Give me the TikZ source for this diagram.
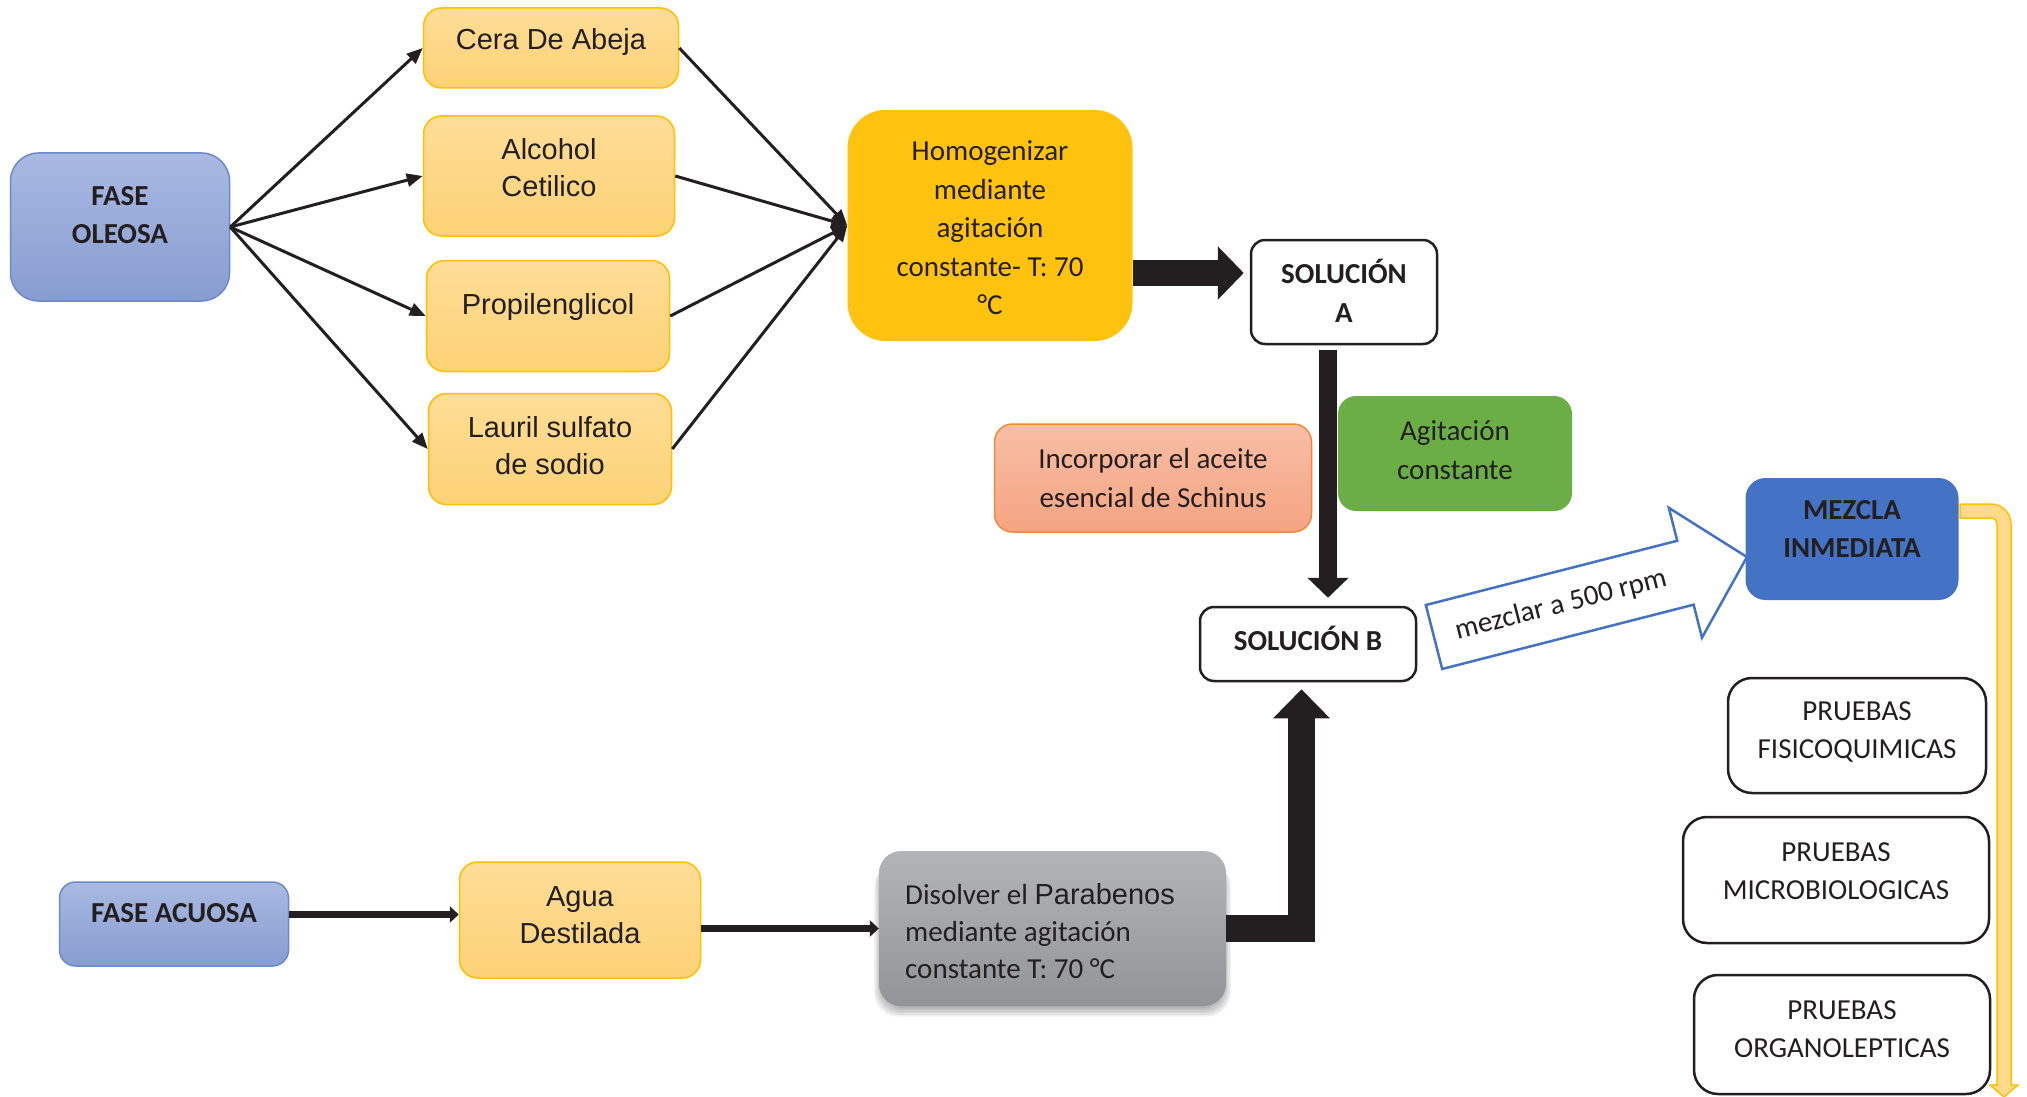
\documentclass[tikz,border=0pt]{standalone}
\usepackage{fontspec}
\setmainfont{Carlito}
\newfontfamily\arialf{Liberation Sans}
\usetikzlibrary{arrows.meta,calc}
\definecolor{txtc}{HTML}{231F20}
\definecolor{faseTop}{HTML}{A9B9E2}
\definecolor{faseBot}{HTML}{879DD0}
\definecolor{faseDraw}{HTML}{6A8BCB}
\definecolor{yTop}{HTML}{FEDD97}
\definecolor{yBot}{HTML}{FDD276}
\definecolor{yDraw}{HTML}{FFC000}
\definecolor{homC}{HTML}{FFC20E}
\definecolor{salTop}{HTML}{F8BEA5}
\definecolor{salBot}{HTML}{F5A482}
\definecolor{salDraw}{HTML}{F0883E}
\definecolor{grnC}{HTML}{6AAE45}
\definecolor{bluC}{HTML}{4472C4}
\definecolor{gryTop}{HTML}{B2B4B6}
\definecolor{gryBot}{HTML}{929497}
\definecolor{elbFill}{HTML}{FFDA8C}
\begin{document}
\begin{tikzpicture}[x=1pt,y=-1pt,
  every node/.style={text=txtc, inner sep=0pt},
  cal/.style={font=\fontsize{29pt}{38.5pt}\selectfont, align=center},
  calb/.style={font=\fontsize{29pt}{38.5pt}\selectfont\bfseries, align=center},
  ar/.style={font=\arialf\fontsize{29pt}{37pt}\selectfont, align=center},
  fase/.style={rounded corners=28pt, top color=faseTop, bottom color=faseBot, draw=faseDraw, line width=1.5pt},
  ybox/.style={rounded corners=18pt, top color=yTop, bottom color=yBot, draw=yDraw, line width=1.5pt},
  homb/.style={rounded corners=38pt, fill=homC},
  solb/.style={rounded corners=14pt, fill=white, draw=txtc, line width=2.5pt},
  salb/.style={rounded corners=18pt, top color=salTop, bottom color=salBot, draw=salDraw, line width=1.5pt},
  grnb/.style={rounded corners=18pt, fill=grnC},
  mezb/.style={rounded corners=20pt, fill=bluC},
  prb/.style={rounded corners=24pt, fill=white, draw=txtc, line width=2.5pt},
  disb/.style={rounded corners=22pt, top color=gryTop, bottom color=gryBot},
  shd/.style={fill=black, opacity=0.055, rounded corners=24pt},
  thinarr/.style={draw=txtc, line width=3pt, -{Triangle[length=16pt,width=13pt]}},
  midarr/.style={draw=txtc, line width=6.5pt, -{Triangle[length=9pt,width=16pt]}},
  blk/.style={draw=txtc, line join=miter}
]
\useasboundingbox (0,0) rectangle (2027,1097);

% ---------- boxes ----------
\node[fase, minimum width=219pt, minimum height=148pt] (oleosa) at (120,227) {};
\node[calb] (oleosa-t) at (120,215) {FASE\\OLEOSA};

\node[ybox, minimum width=255pt, minimum height=80pt] (cera) at (551,48) {};
\node[ar] (cera-t) at (551,42) {Cera De Abeja};
\node[ybox, minimum width=251pt, minimum height=120pt] (alc) at (549,176) {};
\node[ar] (alc-t) at (549,168) {Alcohol\\Cetilico};
\node[ybox, minimum width=243pt, minimum height=111pt] (prop) at (548,316) {};
\node[ar] (prop-t) at (548,307) {Propilenglicol};
\node[ybox, minimum width=243pt, minimum height=111pt] (lau) at (550,449) {};
\node[ar] (lau-t) at (550,446) {Lauril sulfato\\de sodio};

\node[homb, minimum width=285pt, minimum height=231pt] (homog) at (990,225.5) {};
\node[cal] (homog-t) at (990,228) {Homogenizar\\mediante\\agitación\\constante- T: 70\\°C};

\node[solb, minimum width=186pt, minimum height=104pt] (solA) at (1344,292) {};
\node[calb] (solA-t) at (1344,291) {SOLUCIÓN\\A};

\node[salb, minimum width=317pt, minimum height=108pt] (inc) at (1153,478) {};
\node[cal] (inc-t) at (1153,478) {Incorporar el aceite\\esencial de Schinus};

\node[grnb, minimum width=234pt, minimum height=115pt] (agi) at (1455,453.5) {};
\node[cal] (agi-t) at (1455,450) {Agitación\\constante};

\node[solb, minimum width=216pt, minimum height=74pt] (solB) at (1308,644) {};
\node[calb] (solB-t) at (1308,638) {SOLUCIÓN B};

\node[mezb, minimum width=213pt, minimum height=122pt] (mez) at (1852,539) {};
\node[calb] (mez-t) at (1852,529) {MEZCLA\\INMEDIATA};

\node[prb, minimum width=258pt, minimum height=115pt] (fis) at (1857,735.5) {};
\node[cal] (fis-t) at (1857,732) {PRUEBAS\\FISICOQUIMICAS};
\node[prb, minimum width=306pt, minimum height=126pt] (mic) at (1836,880) {};
\node[cal] (mic-t) at (1836,871) {PRUEBAS\\MICROBIOLOGICAS};
\node[prb, minimum width=296pt, minimum height=119pt] (org) at (1842,1034.5) {};
\node[cal] (org-t) at (1842,1029) {PRUEBAS\\ORGANOLEPTICAS};

\node[fase, rounded corners=16pt, minimum width=229pt, minimum height=84pt] (acu) at (174,924) {};
\node[calb] (acu-t) at (174,913) {FASE ACUOSA};
\node[ybox, minimum width=241pt, minimum height=116pt] (agua) at (580,920) {};
\node[ar] (agua-t) at (580,915) {Agua\\Destilada};

% soft shadow under the grey box
\foreach \k in {0,...,6}
  \fill[shd] (882-\k*1.3, 862) rectangle (1223+\k*1.3, 1007+\k*1.6);
\node[disb, minimum width=347pt, minimum height=155pt] (dis) at (1052.5,928.5) {};
\node[font=\fontsize{29pt}{36.7pt}\selectfont, align=left, anchor=west] (dis-t) at (905,931)
  {Disolver el {\arialf Parabenos}\\mediante agitación\\constante T: 70 °C};

% ---------- thin arrows ----------
\foreach \n in {cera,alc,prop,lau}{
  \draw[thinarr] (oleosa.east) -- (\n.west);
  \draw[thinarr] (\n.east) -- (homog.west);
}

% ---------- block arrows ----------
\coordinate (yha) at (0,273);
\draw[blk, line width=26pt, -{Triangle[length=26pt,width=52pt]}, shorten >=6pt]
  (homog.east |- yha) -- (solA.west |- yha);

\coordinate (xab) at (1328,0);
\draw[blk, line width=18pt, -{Triangle[length=20pt,width=40pt]}, shorten <=5pt, shorten >=8pt]
  (solA.south -| xab) -- (solB.north -| xab);

\coordinate (xdb) at (1301.5,0);
\draw[blk, line width=27pt, -{Triangle[length=29pt,width=55pt]}, shorten >=7pt]
  (dis.east) -- (dis.east -| xdb) -- (solB.south -| xdb);

\coordinate (yac) at (0,914.5);
\draw[midarr] (acu.east |- yac) -- (agua.west |- yac);
\draw[midarr] (agua.east |- dis.west) -- (dis.west);

% ---------- hollow arrow ----------
\begin{scope}[shift={(1434,637)}, rotate=14.34]
  \draw[draw=bluC, line width=2.5pt, fill=white, line join=miter]
    (0,-33) -- (259.5,-33) -- (259.5,-67) -- (323,0) -- (259.5,67) -- (259.5,33) -- (0,33) -- cycle;
\end{scope}
\node[cal, rotate=14.34] (mz-t) at (1561,605) {mezclar a 500 rpm};

% ---------- yellow elbow arrow ----------
\fill[elbFill, draw=yDraw, line width=1.5pt]
  (1960,504) [rounded corners=20pt]-- (2011,504) [sharp corners]-- (2011,1085) -- (2018,1085) -- (2004,1097)
  -- (1990,1085) -- (1997,1085) [rounded corners=6pt]-- (1997,518) [sharp corners]-- (1960,518) -- cycle;
\end{tikzpicture}
\end{document}
